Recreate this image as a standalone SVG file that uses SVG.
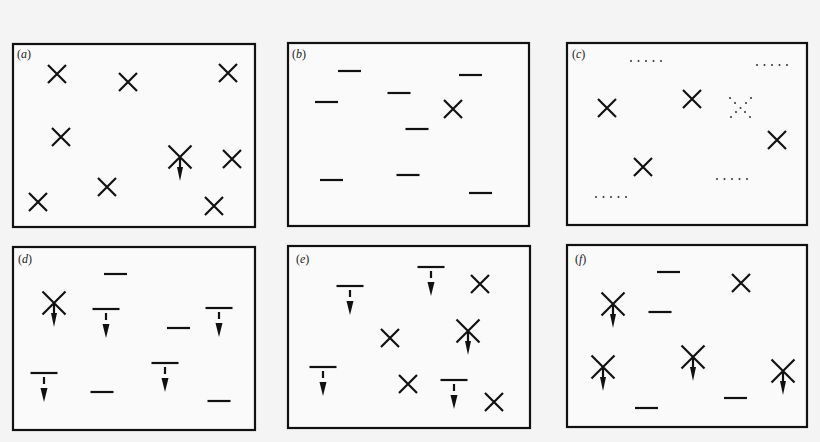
<svg xmlns="http://www.w3.org/2000/svg" xmlns:xlink="http://www.w3.org/1999/xlink" width="820" height="442" viewBox="0 0 820 442">
<style>
.box{fill:#fafafa;stroke:#111;stroke-width:2.2}
.s{stroke:#111;stroke-width:2.2;fill:none;stroke-linecap:butt}
.h{fill:#111;stroke:none}
.lbl{font-family:"Liberation Serif",serif;font-size:12px;fill:#222}
.it{font-style:italic}
.dot{fill:#333}
</style>
<defs>
<g id="x"><path class="s" d="M-9,-9 L9,9 M9,-9 L-9,9"/></g>
<g id="xa"><path class="s" d="M-11.5,-11.5 L11.5,11.5 M11.5,-11.5 L-11.5,11.5 M0,0 L0,12"/><polygon class="h" points="-3,10 3,10 0,24"/></g>
<g id="d"><path class="s" d="M-11.5,0 L11.5,0"/></g>
<g id="t"><path class="s" d="M-13.5,0 L13.5,0"/><path class="s" d="M0,4 L0,11" stroke-width="2"/><polygon class="h" points="-3.5,15 3.5,15 0,29"/></g>
<g id="dots"><circle class="dot" cx="0" cy="0" r="1"/><circle class="dot" cx="7.5" cy="0" r="1"/><circle class="dot" cx="15" cy="0" r="1"/><circle class="dot" cx="22.5" cy="0" r="1"/><circle class="dot" cx="30" cy="0" r="1"/></g>
</defs>
<rect width="820" height="442" fill="#f4f4f4"/>

<g id="panel-a">
<rect class="box" x="13" y="44" width="242" height="183"/>
<text class="lbl" x="17" y="58">(<tspan class="it">a</tspan>)</text>
<use xlink:href="#x" x="57" y="74"/>
<use xlink:href="#x" x="128" y="82"/>
<use xlink:href="#x" x="228" y="73"/>
<use xlink:href="#x" x="61" y="137"/>
<use xlink:href="#xa" x="180" y="157"/>
<use xlink:href="#x" x="232" y="159"/>
<use xlink:href="#x" x="107" y="187"/>
<use xlink:href="#x" x="38" y="202"/>
<use xlink:href="#x" x="214" y="206"/>
</g>

<g id="panel-b">
<rect class="box" x="288" y="43" width="241" height="183"/>
<text class="lbl" x="292" y="58">(<tspan class="it">b</tspan>)</text>
<use xlink:href="#d" x="349.5" y="71"/>
<use xlink:href="#d" x="470.5" y="75"/>
<use xlink:href="#d" x="326.5" y="102"/>
<use xlink:href="#d" x="399" y="93"/>
<use xlink:href="#d" x="417" y="129"/>
<use xlink:href="#d" x="331.5" y="180"/>
<use xlink:href="#d" x="408" y="175"/>
<use xlink:href="#d" x="480.5" y="193"/>
<use xlink:href="#x" x="453" y="109"/>
</g>

<g id="panel-c">
<rect class="box" x="567" y="43" width="240" height="182"/>
<text class="lbl" x="572" y="58">(<tspan class="it">c</tspan>)</text>
<use xlink:href="#dots" x="631" y="61"/>
<use xlink:href="#dots" x="757" y="65"/>
<use xlink:href="#dots" x="717" y="179"/>
<use xlink:href="#dots" x="596" y="197"/>
<use xlink:href="#x" x="607" y="108"/>
<use xlink:href="#x" x="692" y="99"/>
<use xlink:href="#x" x="777" y="140"/>
<use xlink:href="#x" x="643" y="167"/>
<g id="dotted-x">
<circle class="dot" cx="730" cy="98" r="1"/><circle class="dot" cx="751" cy="98" r="1"/>
<circle class="dot" cx="735" cy="103" r="1"/><circle class="dot" cx="746" cy="103" r="1"/>
<circle class="dot" cx="740.5" cy="108" r="1"/>
<circle class="dot" cx="736" cy="112" r="1"/><circle class="dot" cx="745" cy="112" r="1"/>
<circle class="dot" cx="731" cy="117" r="1"/><circle class="dot" cx="750" cy="117" r="1"/>
</g>
</g>

<g id="panel-d">
<rect class="box" x="13" y="247" width="242" height="183"/>
<text class="lbl" x="18" y="263">(<tspan class="it">d</tspan>)</text>
<use xlink:href="#d" x="115.5" y="274"/>
<use xlink:href="#xa" x="54" y="303"/>
<use xlink:href="#t" x="106" y="309"/>
<use xlink:href="#d" x="178.5" y="328"/>
<use xlink:href="#t" x="219" y="308"/>
<use xlink:href="#t" x="44" y="373"/>
<use xlink:href="#d" x="102" y="392"/>
<use xlink:href="#t" x="165" y="363"/>
<use xlink:href="#d" x="219" y="401"/>
</g>

<g id="panel-e">
<rect class="box" x="288" y="246" width="242" height="182"/>
<text class="lbl" x="296" y="263">(<tspan class="it">e</tspan>)</text>
<use xlink:href="#t" x="350" y="286"/>
<use xlink:href="#t" x="431" y="267"/>
<use xlink:href="#x" x="480" y="284"/>
<use xlink:href="#x" x="390" y="338"/>
<use xlink:href="#xa" x="468" y="331"/>
<use xlink:href="#t" x="323" y="367"/>
<use xlink:href="#x" x="408" y="384"/>
<use xlink:href="#t" x="454" y="380"/>
<use xlink:href="#x" x="494" y="402"/>
</g>

<g id="panel-f">
<rect class="box" x="567" y="245" width="240" height="182"/>
<text class="lbl" x="575" y="263">(<tspan class="it">f</tspan>)</text>
<use xlink:href="#d" x="668.5" y="272"/>
<use xlink:href="#x" x="741" y="283"/>
<use xlink:href="#xa" x="613" y="304"/>
<use xlink:href="#d" x="660" y="312"/>
<use xlink:href="#xa" x="603" y="367"/>
<use xlink:href="#xa" x="693" y="357"/>
<use xlink:href="#xa" x="783" y="371"/>
<use xlink:href="#d" x="735.5" y="398"/>
<use xlink:href="#d" x="646.5" y="408"/>
</g>
</svg>
